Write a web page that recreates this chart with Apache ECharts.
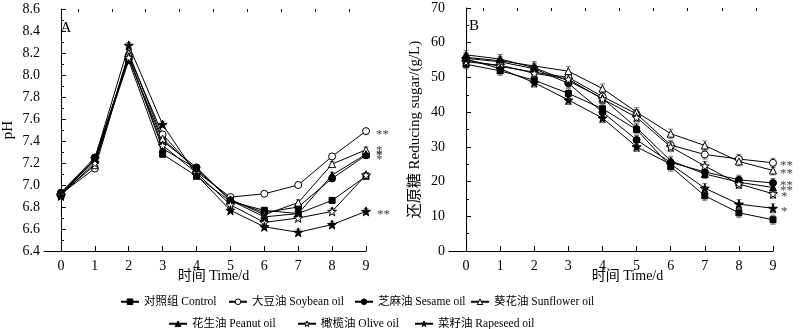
<!DOCTYPE html>
<html><head><meta charset="utf-8">
<script src="https://cdn.jsdelivr.net/npm/echarts@6/dist/echarts.min.js"></script>
<style>html,body{margin:0;padding:0;background:#fff}#c{width:800px;height:329px}</style>
</head><body><div id="c"></div>
<script>
// ---------- data ----------
const days = [0, 1, 2, 3, 4, 5, 6, 7, 8, 9];
const xTicks = [0, 1, 2, 3, 4, 5, 6, 7, 8, 9];
const names = ['对照组 Control', '大豆油 Soybean oil', '芝麻油 Sesame oil', '葵花油 Sunflower oil',
               '花生油 Peanut oil', '橄榄油 Olive oil', '菜籽油 Rapeseed oil'];

// Panel A: pH
const phControl   = [6.92, 7.22, 8.13, 7.28, 7.08, 6.85, 6.77, 6.74, 6.86, 7.08];
const phSoybean   = [6.92, 7.15, 8.18, 7.46, 7.12, 6.89, 6.92, 7.00, 7.26, 7.49];
const phSesame    = [6.93, 7.25, 8.15, 7.40, 7.16, 6.86, 6.75, 6.80, 7.06, 7.27];
const phSunflower = [6.92, 7.18, 8.20, 7.42, 7.14, 6.87, 6.73, 6.84, 7.19, 7.32];
const phPeanut    = [6.93, 7.23, 8.17, 7.33, 7.15, 6.86, 6.71, 6.74, 7.09, 7.28];
const phOlive     = [6.91, 7.20, 8.16, 7.36, 7.11, 6.82, 6.66, 6.70, 6.76, 7.09];
const phRapeseed  = [6.90, 7.24, 8.27, 7.55, 7.09, 6.77, 6.62, 6.57, 6.64, 6.76];

// Panel B: reducing sugar (g/L)
const sgControl   = [53.8, 51.9, 49.2, 45.4, 41.0, 35.0, 24.3, 15.9, 11.0, 9.0];
const sgSoybean   = [55.0, 53.2, 51.5, 50.0, 44.5, 39.5, 30.5, 27.8, 26.5, 25.4];
const sgSesame    = [55.5, 54.5, 52.5, 48.3, 40.0, 32.0, 25.5, 22.8, 20.5, 19.6];
const sgSunflower = [55.8, 54.8, 53.3, 51.8, 46.8, 40.0, 33.8, 30.4, 25.8, 23.2];
const sgPeanut    = [56.5, 55.3, 52.8, 49.0, 44.0, 35.5, 26.0, 22.2, 19.8, 18.3];
const sgOlive     = [54.5, 53.5, 51.2, 49.5, 43.8, 38.5, 30.0, 24.5, 19.3, 16.5];
const sgRapeseed  = [55.3, 52.5, 48.5, 43.5, 38.3, 30.0, 25.0, 18.1, 13.5, 12.3];

// error bar half-widths (per oil)
const errA = [0.025, 0.025, 0.025, 0.025, 0.025, 0.025, 0.025];
const errB = [1.3, 1.3, 1.3, 1.3, 1.3, 1.3, 1.3];

// significance marks at day 9
const sigA = ['', '**', '', '*\n*', '*\n*', '', '**'];
const sigB = ['', '**', '**', '**', '**', '*', '*'];

// ---------- styling ----------
const STAR = 'path://M50,0 L61,35 L98,35 L68,57 L79,91 L50,70 L21,91 L32,57 L2,35 L39,35 Z';
const symbols = ['rect', 'circle', 'circle', 'triangle', 'triangle', STAR, STAR];
const filled  = [true, false, true, false, true, false, true];
const sizes   = [6, 7, 7, 7, 7, 9, 9];
const FONT = "'Liberation Serif', 'Noto Sans CJK SC', serif";

const phData = [phControl, phSoybean, phSesame, phSunflower, phPeanut, phOlive, phRapeseed];
const sgData = [sgControl, sgSoybean, sgSesame, sgSunflower, sgPeanut, sgOlive, sgRapeseed];

const chart = echarts.init(document.getElementById('c'), null, {renderer: 'canvas'});

function markerStyle(i) {
  return {color: filled[i] ? '#000' : '#fff', borderColor: '#000', borderWidth: 1};
}

function mkXAxes(gridIndex) {
  const halfTicks = xTicks.slice(0, -1).map(v => v + 0.5);
  return [
    {
      type: 'value', gridIndex, min: -0.5, max: 9,
      axisLine: {lineStyle: {color: '#000', width: 1}},
      axisTick: {inside: true, length: 5, customValues: xTicks, lineStyle: {color: '#000'}},
      axisLabel: {customValues: xTicks, color: '#000', fontSize: 14, fontFamily: FONT, margin: 8},
      splitLine: {show: false}
    },
    {
      type: 'value', gridIndex, min: -0.5, max: 9,
      axisLine: {show: false},
      axisTick: {inside: true, length: 3, customValues: halfTicks, lineStyle: {color: '#000'}},
      axisLabel: {show: false},
      splitLine: {show: false}
    }
  ];
}

function mkSeries(dataSets, errs, sigs, xIdx, yIdx, dist) {
  const out = [];
  dataSets.forEach((arr, i) => {
    out.push({
      type: 'line', name: names[i], xAxisIndex: xIdx, yAxisIndex: yIdx,
      data: days.map((d, k) => {
        const item = {value: [d, arr[k]]};
        if (k === days.length - 1 && sigs[i]) {
          const multi = sigs[i].indexOf('\n') >= 0;
          item.label = {
            show: true, position: 'right', distance: dist, formatter: sigs[i],
            color: '#444', fontSize: 13, fontFamily: FONT, lineHeight: multi ? 5 : 13,
            offset: [0, 3]
          };
        }
        return item;
      }),
      symbol: symbols[i], symbolSize: sizes[i], showSymbol: true,
      lineStyle: {color: '#000', width: 1},
      itemStyle: markerStyle(i),
      emphasis: {disabled: true}, animation: false, z: 3
    });
  });
  // error bars
  const ebData = [];
  dataSets.forEach((arr, i) => days.forEach((d, k) => ebData.push([d, arr[k], errs[i]])));
  out.push({
    type: 'custom', name: 'err' + xIdx, xAxisIndex: xIdx, yAxisIndex: yIdx, data: ebData, z: 2,
    silent: true, animation: false,
    renderItem: function (params, api) {
      const x = api.value(0), y = api.value(1), e = api.value(2);
      const t = api.coord([x, y + e]), b = api.coord([x, y - e]);
      const w = 2.5;
      const st = {stroke: '#555', lineWidth: 0.8};
      return {type: 'group', children: [
        {type: 'line', shape: {x1: t[0], y1: t[1], x2: b[0], y2: b[1]}, style: st},
        {type: 'line', shape: {x1: t[0] - w, y1: t[1], x2: t[0] + w, y2: t[1]}, style: st},
        {type: 'line', shape: {x1: b[0] - w, y1: b[1], x2: b[0] + w, y2: b[1]}, style: st}
      ]};
    }
  });
  return out;
}

const legendPos = [[115, 291], [223, 291], [349, 291], [465, 291], [163, 313], [292, 313], [409, 313]];
const legends = names.map((n, i) => ({
  data: [{name: n, itemStyle: markerStyle(i)}], left: legendPos[i][0], top: legendPos[i][1],
  itemWidth: 18, itemHeight: 7, itemGap: 0, selectedMode: false,
  textStyle: {color: '#000', fontSize: 11.5, fontFamily: FONT}
}));

const yAxisCommon = {
  axisLine: {show: true, lineStyle: {color: '#000', width: 1}},
  axisTick: {show: true, inside: true, length: 5, lineStyle: {color: '#000'}},
  minorTick: {show: true, splitNumber: 2, length: 3, lineStyle: {color: '#000'}},
  splitLine: {show: false},
  nameLocation: 'middle',
  nameTextStyle: {color: '#000', fontFamily: FONT}
};

const option = {
  backgroundColor: '#fff',
  animation: false,
  legend: legends,
  grid: [
    {left: 40, top: 9, width: 326, height: 242},
    {left: 449, top: 8, width: 324, height: 243}
  ],
  xAxis: [...mkXAxes(0), ...mkXAxes(1)],
  yAxis: [
    Object.assign({}, yAxisCommon, {
      type: 'value', gridIndex: 0, min: 6.4, max: 8.6, interval: 0.2,
      name: 'pH', nameGap: 28,
      nameTextStyle: {color: '#000', fontFamily: FONT, fontSize: 15},
      axisLabel: {color: '#000', fontSize: 14, fontFamily: FONT, margin: 4, formatter: v => v.toFixed(1)}
    }),
    Object.assign({}, yAxisCommon, {
      type: 'value', gridIndex: 1, min: 0, max: 70, interval: 10,
      name: '还原糖 Reducing sugar/(g/L)', nameGap: 26,
      nameTextStyle: {color: '#000', fontFamily: FONT, fontSize: 15},
      axisLabel: {color: '#000', fontSize: 14, fontFamily: FONT, margin: 4}
    })
  ],
  series: [...mkSeries(phData, errA, sigA, 0, 0, 6), ...mkSeries(sgData, errB, sigB, 2, 1, 3)]
};
chart.setOption(option);

// axis titles centered on the data span, and panel letters
const pA = chart.convertToPixel({xAxisIndex: 0, yAxisIndex: 0}, [4.5, 6.4]);
const pB = chart.convertToPixel({xAxisIndex: 2, yAxisIndex: 1}, [4.5, 0]);
const tstyle = {fill: '#000', fontSize: 14, fontFamily: FONT, align: 'center', verticalAlign: 'middle'};
chart.setOption({
  graphic: [
    {type: 'text', x: pA[0], y: pA[1] + 25, style: Object.assign({text: '时间 Time/d'}, tstyle)},
    {type: 'text', x: pB[0] + 8, y: pB[1] + 25, style: Object.assign({text: '时间 Time/d'}, tstyle)},
    {type: 'text', x: 66, y: 28, style: Object.assign({text: 'A'}, tstyle, {fontSize: 15})},
    {type: 'text', x: 474, y: 26, style: Object.assign({text: 'B'}, tstyle, {fontSize: 15})}
  ]
});
</script>
</body></html>
